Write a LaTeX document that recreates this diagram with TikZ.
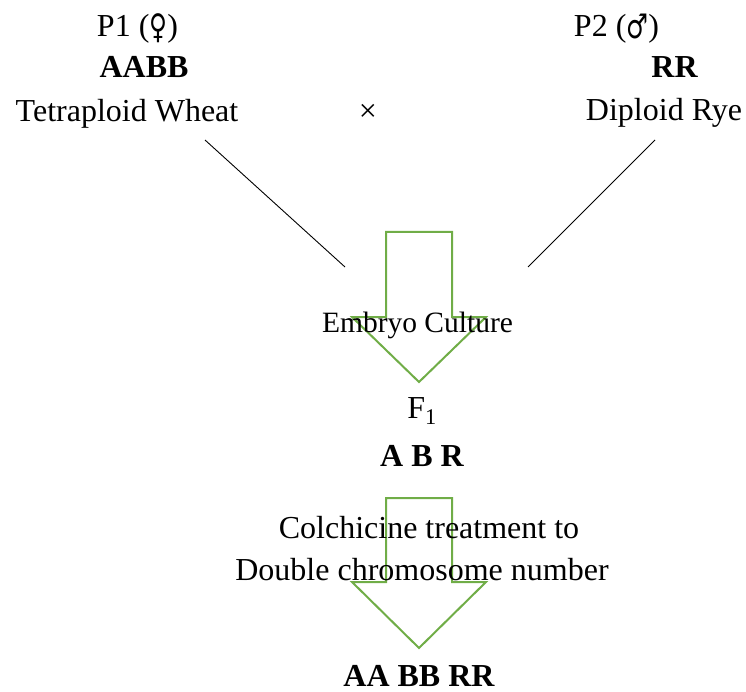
\documentclass[tikz,border=0pt]{standalone}
\usepackage{fontspec}
\setmainfont{Liberation Serif}
\newfontfamily\symfont{DejaVu Sans}
\newcommand{\gsym}[1]{\raisebox{-2pt}{\scalebox{0.72}[1]{\symfont\fontsize{34}{38}\selectfont #1}}}
\definecolor{arrgreen}{RGB}{112,173,71}
\begin{document}
\begin{tikzpicture}[x=1pt,y=-1pt,
  lbl/.style={anchor=base,inner sep=0pt,font=\fontsize{32}{38}\selectfont},
  blbl/.style={lbl,font=\fontsize{32}{38}\selectfont\bfseries},
  slbl/.style={lbl,font=\fontsize{29.5}{35}\selectfont},
  cross/.style={thin,black,line width=0.9pt},
  bigarrow/.style={draw=arrgreen,line width=2pt,line join=miter}]
\useasboundingbox (0,0) rectangle (746,692);
% parents
\node[lbl] (p1) at (137.5,37) {P1 (\gsym{♀})};
\node[blbl] (aabb) at (144,78) {AABB};
\node[lbl] (wheat) at (127,122) {Tetraploid Wheat};
\node[lbl] (x) at (368,122) {×};
\node[lbl] (p2) at (616.5,37) {P2 (\gsym{♂})};
\node[blbl] (rr) at (674.5,78) {RR};
\node[lbl] (rye) at (664,121) {Diploid Rye};
% crossing lines
\coordinate (l1) at (205,140);
\coordinate (l2) at (345,267);
\coordinate (r1) at (655,140);
\coordinate (r2) at (528,267);
\draw[cross] (l1) -- (l2);
\draw[cross] (r1) -- (r2);
% arrow 1
\draw[bigarrow] (386,232) -- (452,232) -- (452,317) -- (486,317) -- (419,382) -- (352,317) -- (386,317) -- cycle;
\node[slbl] (embryo) at (417.5,332) {Embryo Culture};
% F1
\node[lbl] (f1) at (422,418) {F\textsubscript{1}};
\node[blbl] (abr) at (422,466) {A B R};
% arrow 2
\draw[bigarrow] (386,498) -- (452,498) -- (452,582) -- (486,582) -- (419,648) -- (352,582) -- (386,582) -- cycle;
\node[lbl] (colch) at (429,538) {Colchicine treatment to};
\node[lbl] (double) at (422,580) {Double chromosome number};
\node[blbl] (final) at (419,686) {AA BB RR};
\end{tikzpicture}
\end{document}
